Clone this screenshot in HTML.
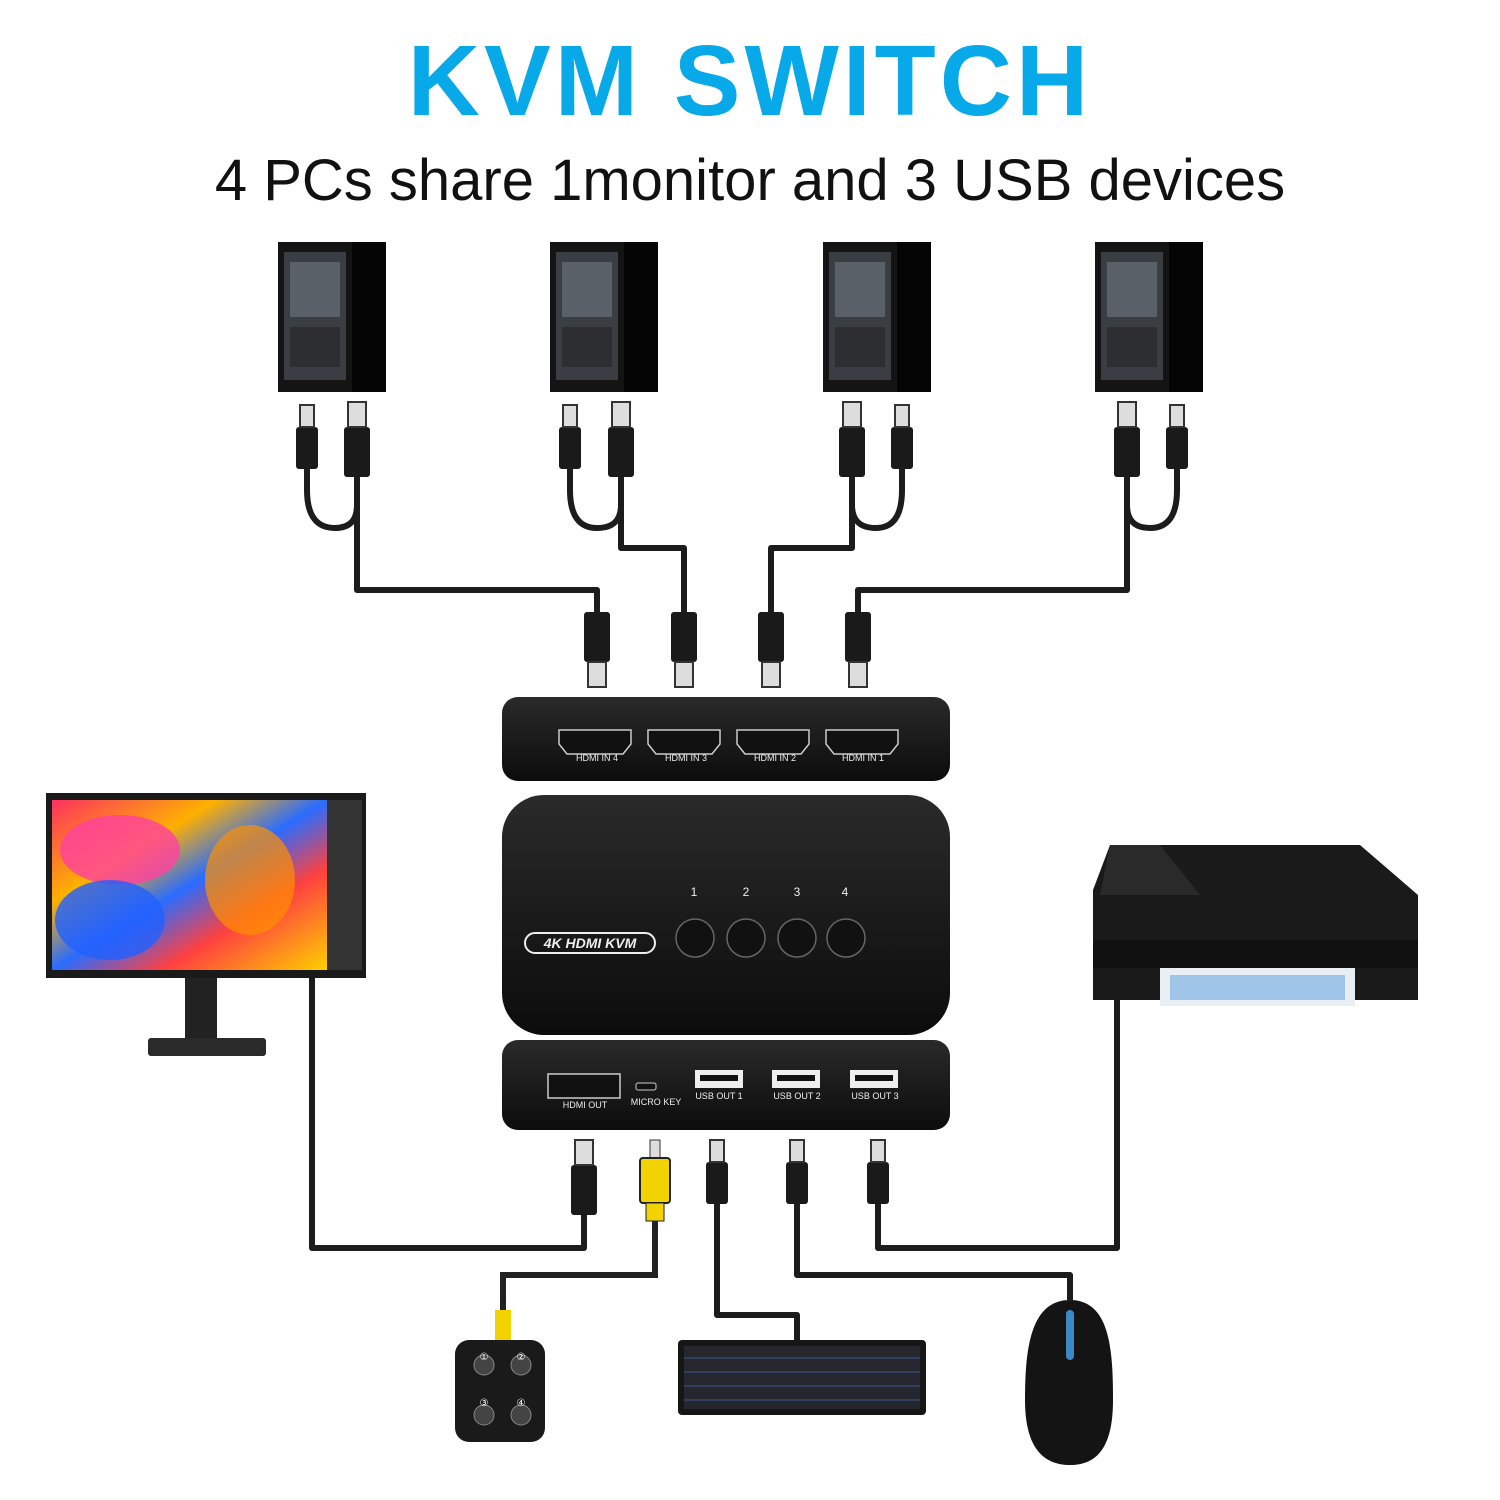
<!DOCTYPE html>
<html><head><meta charset="utf-8"><style>
html,body{margin:0;padding:0;background:#fff}
svg{display:block}
text{font-family:"Liberation Sans",sans-serif}
</style></head><body>
<svg width="1500" height="1500" viewBox="0 0 1500 1500" xmlns="http://www.w3.org/2000/svg">
<defs>
<linearGradient id="body" x1="0" y1="0" x2="0" y2="1"><stop offset="0" stop-color="#2a2a2a"/><stop offset="1" stop-color="#0c0c0c"/></linearGradient>
<linearGradient id="scr" x1="0" y1="0" x2="1" y2="1"><stop offset="0" stop-color="#ff3060"/><stop offset="0.3" stop-color="#ffb000"/><stop offset="0.5" stop-color="#2a6cff"/><stop offset="0.7" stop-color="#ff4040"/><stop offset="1" stop-color="#ffd000"/></linearGradient>
<g id="pc">
<rect x="0" y="0" width="108" height="150" fill="#141414"/>
<rect x="6" y="10" width="62" height="128" fill="#3a3d42"/>
<rect x="12" y="20" width="50" height="55" fill="#5a6068"/>
<rect x="12" y="85" width="50" height="40" fill="#2c2e31"/>
<rect x="74" y="0" width="34" height="150" fill="#050505"/>
</g>
<g id="hdmi"><rect x="-13" y="0" width="26" height="50" rx="3" fill="#1a1a1a"/><rect x="-9" y="50" width="18" height="25" fill="#ddd" stroke="#333" stroke-width="2"/></g>
<g id="hdmiU"><rect x="-13" y="25" width="26" height="50" rx="3" fill="#1a1a1a"/><rect x="-9" y="0" width="18" height="25" fill="#ddd" stroke="#333" stroke-width="2"/></g>
<g id="usbU"><rect x="-11" y="22" width="22" height="42" rx="3" fill="#1a1a1a"/><rect x="-7" y="0" width="14" height="22" fill="#ddd" stroke="#333" stroke-width="2"/></g>
<g id="port"><path d="M-36 -12 h72 v14 l-8 10 h-56 l-8 -10z" fill="#111" stroke="#ccc" stroke-width="1.5"/></g>
</defs>

<text x="750" y="115" text-anchor="middle" font-size="100" font-weight="bold" fill="#08a9e8" letter-spacing="4">KVM SWITCH</text>
<text x="750" y="200" text-anchor="middle" font-size="58" fill="#111">4 PCs share 1monitor and 3 USB devices</text>

<use href="#pc" x="278" y="242"/><use href="#pc" x="550" y="242"/><use href="#pc" x="823" y="242"/><use href="#pc" x="1095" y="242"/>

<g fill="none" stroke="#1c1c1c" stroke-width="6" stroke-linejoin="round">
<path d="M307 460 V490 Q307 528 335 528 Q357 528 357 505"/>
<path d="M357 470 V590 H597 V612"/>
<path d="M570 460 V490 Q570 528 597 528 Q621 528 621 505"/>
<path d="M621 470 V548 H684 V612"/>
<path d="M902 460 V490 Q902 528 876 528 Q852 528 852 505"/>
<path d="M852 470 V548 H771 V612"/>
<path d="M1177 460 V490 Q1177 528 1150 528 Q1127 528 1127 505"/>
<path d="M1127 470 V590 H858 V612"/>
<path d="M584 1215 V1248 H312 V978"/>
<path d="M717 1190 V1315 H797 V1340"/>
<path d="M797 1190 V1275 H1070 V1300"/>
<path d="M878 1190 V1248 H1117 V920 H1093"/>
</g>
<path d="M655 1215 V1275 H503 V1320" fill="none" stroke="#222" stroke-width="6"/>

<!-- PC connectors -->
<g>
<use href="#usbU" x="307" y="405"/><use href="#hdmiU" x="357" y="402"/>
<use href="#usbU" x="570" y="405"/><use href="#hdmiU" x="621" y="402"/>
<use href="#hdmiU" x="852" y="402"/><use href="#usbU" x="902" y="405"/>
<use href="#hdmiU" x="1127" y="402"/><use href="#usbU" x="1177" y="405"/>
</g>
<use href="#hdmi" x="597" y="612"/><use href="#hdmi" x="684" y="612"/><use href="#hdmi" x="771" y="612"/><use href="#hdmi" x="858" y="612"/>

<!-- switch top panel -->
<rect x="502" y="697" width="448" height="84" rx="16" fill="url(#body)"/>
<g transform="translate(595,742)"><use href="#port"/></g>
<g transform="translate(684,742)"><use href="#port"/></g>
<g transform="translate(773,742)"><use href="#port"/></g>
<g transform="translate(862,742)"><use href="#port"/></g>
<g font-size="9" fill="#eee" text-anchor="middle"><text x="597" y="761">HDMI IN 4</text><text x="686" y="761">HDMI IN 3</text><text x="775" y="761">HDMI IN 2</text><text x="863" y="761">HDMI IN 1</text></g>

<!-- main body -->
<rect x="502" y="795" width="448" height="240" rx="42" fill="url(#body)"/>
<g font-size="12" fill="#eee" text-anchor="middle"><text x="694" y="896">1</text><text x="746" y="896">2</text><text x="797" y="896">3</text><text x="845" y="896">4</text></g>
<g fill="#111" stroke="#666" stroke-width="1.5"><circle cx="695" cy="938" r="19"/><circle cx="746" cy="938" r="19"/><circle cx="797" cy="938" r="19"/><circle cx="846" cy="938" r="19"/></g>
<rect x="525" y="933" width="130" height="20" rx="10" fill="none" stroke="#eee" stroke-width="2"/>
<text x="590" y="948" text-anchor="middle" font-size="14" font-weight="bold" fill="#eee" font-style="italic">4K HDMI KVM</text>

<!-- bottom panel -->
<rect x="502" y="1040" width="448" height="90" rx="16" fill="url(#body)"/>
<rect x="548" y="1074" width="72" height="24" fill="#111" stroke="#ccc" stroke-width="1.5"/>
<rect x="636" y="1083" width="20" height="7" rx="2" fill="#111" stroke="#ccc"/>
<g fill="#eee"><rect x="695" y="1070" width="48" height="18"/><rect x="772" y="1070" width="48" height="18"/><rect x="850" y="1070" width="48" height="18"/></g>
<g fill="#111"><rect x="700" y="1075" width="38" height="6"/><rect x="777" y="1075" width="38" height="6"/><rect x="855" y="1075" width="38" height="6"/></g>
<g font-size="9" fill="#eee" text-anchor="middle"><text x="585" y="1108">HDMI OUT</text><text x="656" y="1105">MICRO KEY</text><text x="719" y="1099">USB OUT 1</text><text x="797" y="1099">USB OUT 2</text><text x="875" y="1099">USB OUT 3</text></g>

<!-- bottom connectors -->
<use href="#hdmiU" x="584" y="1140"/>
<g><rect x="650" y="1140" width="10" height="20" fill="#ddd" stroke="#333"/><rect x="640" y="1158" width="30" height="45" rx="3" fill="#f2d200" stroke="#222" stroke-width="2"/><rect x="646" y="1203" width="18" height="18" fill="#f2d200" stroke="#222"/></g>
<use href="#usbU" x="717" y="1140"/><use href="#usbU" x="797" y="1140"/><use href="#usbU" x="878" y="1140"/>

<!-- monitor -->
<rect x="46" y="793" width="320" height="185" fill="#1a1a1a"/>
<rect x="52" y="800" width="275" height="170" fill="url(#scr)"/>
<ellipse cx="120" cy="850" rx="60" ry="35" fill="#ff40a0" opacity="0.8"/>
<ellipse cx="110" cy="920" rx="55" ry="40" fill="#2060ff" opacity="0.8"/>
<ellipse cx="250" cy="880" rx="45" ry="55" fill="#ff9000" opacity="0.7"/>
<rect x="327" y="800" width="35" height="170" fill="#333"/>
<rect x="185" y="978" width="32" height="62" fill="#222"/>
<rect x="148" y="1038" width="118" height="18" rx="3" fill="#2a2a2a"/>

<!-- printer -->
<path d="M1110 845 L1360 845 L1418 895 L1418 1000 L1093 1000 L1093 890 Z" fill="#1a1a1a"/>
<path d="M1110 845 L1160 845 L1200 895 L1100 895 Z" fill="#2a2a2a"/>
<rect x="1160" y="968" width="195" height="38" fill="#e8eef4"/>
<rect x="1170" y="975" width="175" height="25" fill="#9ec4e8"/>
<rect x="1093" y="940" width="325" height="28" fill="#111"/>

<!-- keypad -->
<rect x="455" y="1340" width="90" height="102" rx="14" fill="#1a1a1a"/>
<rect x="495" y="1310" width="16" height="30" fill="#f2d200"/>
<g fill="#444" stroke="#888"><circle cx="484" cy="1365" r="10"/><circle cx="521" cy="1365" r="10"/><circle cx="484" cy="1415" r="10"/><circle cx="521" cy="1415" r="10"/></g>
<g font-size="10" fill="#fff" text-anchor="middle"><text x="484" y="1360">①</text><text x="521" y="1360">②</text><text x="484" y="1406">③</text><text x="521" y="1406">④</text></g>

<!-- keyboard -->
<rect x="678" y="1340" width="248" height="75" rx="4" fill="#161616"/>
<rect x="684" y="1346" width="236" height="63" fill="#2a2a36" opacity="0.8"/>
<g stroke="#4a7acc" stroke-width="1" opacity="0.6"><line x1="684" y1="1358" x2="920" y2="1358"/><line x1="684" y1="1372" x2="920" y2="1372"/><line x1="684" y1="1386" x2="920" y2="1386"/><line x1="684" y1="1400" x2="920" y2="1400"/></g>

<!-- mouse -->
<path d="M1070 1300 C1030 1300 1025 1350 1025 1400 C1025 1450 1045 1465 1070 1465 C1095 1465 1113 1450 1113 1400 C1113 1350 1110 1300 1070 1300 Z" fill="#141414"/>
<rect x="1066" y="1310" width="8" height="50" rx="4" fill="#3a8ac8"/>
</svg>
</body></html>
